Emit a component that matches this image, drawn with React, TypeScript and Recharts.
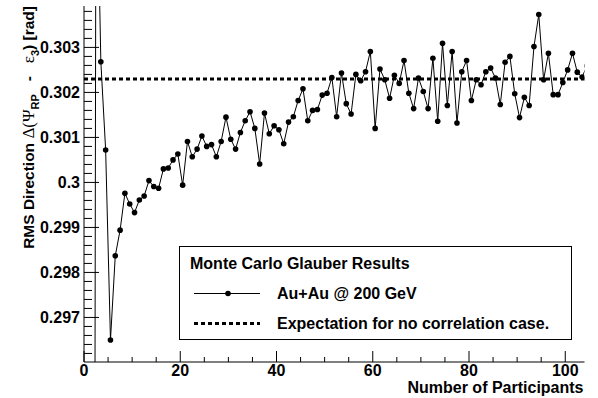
import { Legend, Line, LineChart, ReferenceLine, XAxis, YAxis } from 'recharts'

// bin centres (number of participants)
const participants = [
  1.5, 2.5, 3.5, 4.5, 5.5, 6.5, 7.5, 8.5, 9.5, 10.5, 11.5, 12.5, 13.5, 14.5, 15.5, 16.5, 17.5, 18.5, 19.5, 20.5,
  21.5, 22.5, 23.5, 24.5, 25.5, 26.5, 27.5, 28.5, 29.5, 30.5, 31.5, 32.5, 33.5, 34.5, 35.5, 36.5, 37.5, 38.5, 39.5, 40.5,
  41.5, 42.5, 43.5, 44.5, 45.5, 46.5, 47.5, 48.5, 49.5, 50.5, 51.5, 52.5, 53.5, 54.5, 55.5, 56.5, 57.5, 58.5, 59.5, 60.5,
  61.5, 62.5, 63.5, 64.5, 65.5, 66.5, 67.5, 68.5, 69.5, 70.5, 71.5, 72.5, 73.5, 74.5, 75.5, 76.5, 77.5, 78.5, 79.5, 80.5,
  81.5, 82.5, 83.5, 84.5, 85.5, 86.5, 87.5, 88.5, 89.5, 90.5, 91.5, 92.5, 93.5, 94.5, 95.5, 96.5, 97.5, 98.5, 99.5, 100.5,
  101.5, 102.5, 103.5, 104.5,
]

// RMS of (Psi_RP - eps_3)
const rmsDirection = [
  0.2503, 0.3081, 0.30268, 0.30072, 0.2965, 0.29837, 0.29894, 0.29976, 0.29952, 0.29933,
  0.29961, 0.2997, 0.30004, 0.29991, 0.29987, 0.3003, 0.30032, 0.3005, 0.30063, 0.29994,
  0.30091, 0.30057, 0.30074, 0.30103, 0.3008, 0.30084, 0.30057, 0.30091, 0.30145, 0.30096,
  0.30074, 0.30111, 0.30137, 0.30157, 0.3012, 0.30041, 0.30154, 0.30108, 0.30126, 0.30117,
  0.30086, 0.30134, 0.30146, 0.30182, 0.30208, 0.30137, 0.3016, 0.30162, 0.30194, 0.30198,
  0.30233, 0.30146, 0.30243, 0.30175, 0.30152, 0.3024, 0.30226, 0.30246, 0.30291, 0.3012,
  0.30252, 0.30228, 0.30187, 0.30238, 0.3022, 0.30271, 0.30198, 0.30164, 0.30232, 0.30202,
  0.30164, 0.30276, 0.30136, 0.30309, 0.30171, 0.30291, 0.30132, 0.30246, 0.30271, 0.30182,
  0.30228, 0.30217, 0.30246, 0.30254, 0.30232, 0.30173, 0.30267, 0.3028, 0.30197, 0.30144,
  0.30189, 0.30171, 0.30302, 0.30373, 0.30228, 0.30287, 0.30195, 0.30195, 0.30222, 0.3025,
  0.30287, 0.30245, 0.30234, 0.30259,
]

const expectation = 0.3023

const xTicks = [0, 5, 10, 15, 20, 25, 30, 35, 40, 45, 50, 55, 60, 65, 70, 75, 80, 85, 90, 95, 100]
const xLabelTicks = [0, 20, 40, 60, 80, 100]
const yTicks = [
  0.2962, 0.2964, 0.2966, 0.2968, 0.297, 0.2972, 0.2974, 0.2976, 0.2978, 0.298,
  0.2982, 0.2984, 0.2986, 0.2988, 0.299, 0.2992, 0.2994, 0.2996, 0.2998, 0.3,
  0.3002, 0.3004, 0.3006, 0.3008, 0.301, 0.3012, 0.3014, 0.3016, 0.3018, 0.302,
  0.3022, 0.3024, 0.3026, 0.3028, 0.303, 0.3032, 0.3034, 0.3036, 0.3038,
]
const yLabelTicks = [0.297, 0.298, 0.299, 0.3, 0.301, 0.302, 0.303]

const data = participants.map((n, i) => ({ n, rms: rmsDirection[i] }))

const FONT = '"Liberation Sans", Arial, Helvetica, sans-serif'
const GREEK = '"Liberation Serif", "DejaVu Serif", serif'

const isIn = (list: number[], v: number) => list.some((t) => Math.abs(t - v) < 1e-9)

function YTick(props: any) {
  const { x, y, payload } = props
  const major = isIn(yLabelTicks, payload.value)
  const axisX = x + 4
  return (
    <g>
      <line x1={axisX} x2={axisX + (major ? 15 : 8)} y1={y} y2={y} stroke="#000" strokeWidth={1} />
      {major && (
        <text x={x} y={y} dy={6} textAnchor="end" fontFamily={FONT} fontWeight="bold" fontSize={16} fill="#000">
          {String(payload.value)}
        </text>
      )}
    </g>
  )
}

function XTick(props: any) {
  const { x, y, payload } = props
  const major = isIn(xLabelTicks, payload.value)
  return (
    <g>
      <line x1={x} x2={x} y1={y} y2={y - (major ? 11 : 5)} stroke="#000" strokeWidth={1} />
      {major && (
        <text x={x} y={y + 14} textAnchor="middle" fontFamily={FONT} fontWeight="bold" fontSize={16} fill="#000">
          {String(payload.value)}
        </text>
      )}
    </g>
  )
}

function XTitle(props: any) {
  const vb = props.viewBox || { x: 84, y: 362, width: 500.5, height: 36 }
  return (
    <text x={vb.x + vb.width - 1} y={vb.y + 30.5} textAnchor="end" fontFamily={FONT} fontWeight="bold" fontSize={16} fill="#000">
      Number of Participants
    </text>
  )
}

function YTitle(props: any) {
  const vb = props.viewBox || { x: 0, y: 6, width: 84, height: 356 }
  return (
    <text
      transform={`translate(${vb.x + 34}, ${vb.y}) rotate(-90)`}
      textAnchor="end"
      fontFamily={FONT}
      fontWeight="bold"
      fontSize={15.5}
      fill="#000"
      xmlSpace="preserve"
      style={{ whiteSpace: 'pre' }}
    >
      <tspan>RMS Direction </tspan>
      <tspan fontFamily={GREEK} fontWeight="normal" fontSize={17}>Δ(Ψ</tspan>
      <tspan fontSize={11} dy={5}>RP</tspan>
      <tspan dy={-5}>{'   -   '}</tspan>
      <tspan fontFamily={GREEK} fontWeight="normal" fontSize={17}>ε</tspan>
      <tspan fontSize={11} dy={5}>3</tspan>
      <tspan dy={-5}>) [rad]</tspan>
    </text>
  )
}

function LegendBox() {
  return (
    <div style={{ width: '100%', height: '100%', border: '1px solid #000', background: '#fff', boxSizing: 'border-box' }}>
      <svg width={393} height={94} style={{ display: 'block', position: 'absolute', left: 0, top: 0 }}>
        <g fontFamily={FONT} fontWeight="bold" fontSize={16} fill="#000">
          <text x={11} y={23}>Monte Carlo Glauber Results</text>
          <line x1={15} x2={81} y1={47.5} y2={47.5} stroke="#000" strokeWidth={1} />
          <circle cx={49} cy={47.5} r={2.8} fill="#000" />
          <text x={98} y={53}>Au+Au @ 200 GeV</text>
          <line x1={15} x2={81} y1={77.5} y2={77.5} stroke="#000" strokeWidth={3} strokeDasharray="4 3" />
          <text x={98} y={83}>Expectation for no correlation case.</text>
        </g>
      </svg>
    </div>
  )
}

export default function App() {
  return (
    <div style={{ position: 'absolute', left: 0, top: 0, background: '#fff' }}>
      <LineChart width={598} height={398} data={data} margin={{ top: 6, right: 13.5, bottom: 0, left: 0 }}>
        <XAxis
          dataKey="n"
          type="number"
          domain={[0, 104]}
          allowDataOverflow
          ticks={xTicks}
          interval={0}
          height={36}
          tickSize={0}
          tickMargin={0}
          tick={<XTick />}
          axisLine={{ stroke: '#000', strokeWidth: 1 }}
          tickLine={false}
          label={<XTitle />}
        />
        <XAxis
          xAxisId="top"
          orientation="top"
          type="number"
          domain={[0, 104]}
          height={0}
          tick={false}
          tickLine={false}
          axisLine={{ stroke: '#000', strokeWidth: 1 }}
        />
        <YAxis
          type="number"
          domain={[0.29601, 0.30392]}
          allowDataOverflow
          ticks={yTicks}
          interval={0}
          width={84}
          tickSize={0}
          tickMargin={4}
          tick={<YTick />}
          axisLine={{ stroke: '#000', strokeWidth: 1 }}
          tickLine={false}
          label={<YTitle />}
        />
        <YAxis
          yAxisId="right"
          orientation="right"
          type="number"
          domain={[0.29601, 0.30392]}
          width={0}
          tick={false}
          tickLine={false}
          axisLine={{ stroke: '#000', strokeWidth: 1 }}
        />
        <ReferenceLine y={expectation} stroke="#000" strokeWidth={3} strokeDasharray="4 3" />
        <Line
          dataKey="rms"
          stroke="#000"
          strokeWidth={1}
          dot={{ r: 2.8, fill: '#000', stroke: 'none' }}
          activeDot={false}
          isAnimationActive={false}
        />
        <Legend
          layout="horizontal"
          verticalAlign="middle"
          align="center"
          wrapperStyle={{ left: 179, top: 246, width: 393, height: 94 }}
          content={() => <LegendBox />}
        />
      </LineChart>
    </div>
  )
}
